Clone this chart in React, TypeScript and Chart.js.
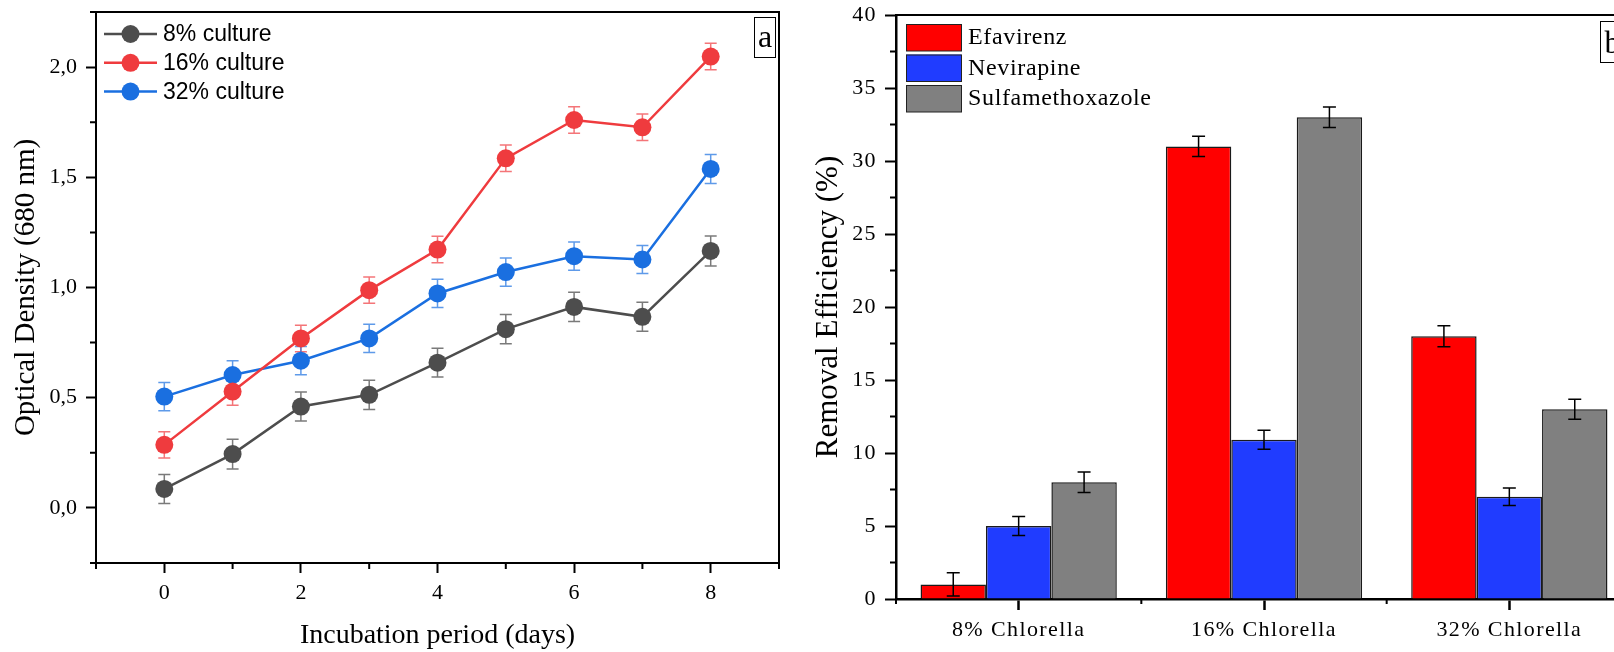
import React, { useEffect, useRef } from 'react';
import { Chart, registerables } from 'chart.js';

Chart.register(...registerables);

// ---------- Panel a : optical density ----------
const days = [0, 1, 2, 3, 4, 5, 6, 7, 8];
const seriesNamesA = ['8% culture', '16% culture', '32% culture'];
const culture8 = [0.086, 0.244, 0.46, 0.513, 0.659, 0.811, 0.912, 0.867, 1.166];
const culture16 = [0.286, 0.528, 0.769, 0.988, 1.172, 1.586, 1.76, 1.727, 2.048];
const culture32 = [0.505, 0.603, 0.668, 0.769, 0.973, 1.07, 1.142, 1.127, 1.538];
const culture8Err = [0.066, 0.068, 0.066, 0.066, 0.065, 0.066, 0.066, 0.066, 0.068];
const culture16Err = [0.06, 0.062, 0.06, 0.06, 0.06, 0.06, 0.06, 0.06, 0.06];
const culture32Err = [0.064, 0.065, 0.064, 0.064, 0.064, 0.064, 0.064, 0.064, 0.066];
const xMinorTicksA = [-1, 1, 3, 5, 7, 9];
const yMinorTicksA = [-0.25, 0.25, 0.75, 1.25, 1.75, 2.25];

// ---------- Panel b : removal efficiency ----------
const groups = ['8% Chlorella', '16% Chlorella', '32% Chlorella'];
const drugNames = ['Efavirenz', 'Nevirapine', 'Sulfamethoxazole'];
const efavirenz = [1, 31, 18];
const nevirapine = [5, 10.9, 7];
const sulfamethoxazole = [8, 33, 13];
const efavirenzErr = [0.8, 0.7, 0.72];
const nevirapineErr = [0.65, 0.65, 0.6];
const sulfamethoxazoleErr = [0.7, 0.7, 0.68];
const yMinorTicksB = [2.5, 7.5, 12.5, 17.5, 22.5, 27.5, 32.5, 37.5];

const colorsA = ['#4D4D4D', '#EF3B3E', '#1A6FE0'];
const errColorsA = ['rgba(77,77,77,0.75)', 'rgba(239,59,62,0.7)', 'rgba(26,111,224,0.7)'];
const colorsB = ['#FF0000', '#203CFF', '#808080'];

const SERIF = '"Liberation Serif", "Times New Roman", serif';
const SANS = '"Liberation Sans", Arial, sans-serif';

const noScalePad = (s: any) => {
  s.paddingTop = 0;
  s.paddingBottom = 0;
  s.paddingLeft = 0;
  s.paddingRight = 0;
};

export default function App() {
  const leftRef = useRef<HTMLCanvasElement>(null);
  const rightRef = useRef<HTMLCanvasElement>(null);

  useEffect(() => {
    const valuesA = [culture8, culture16, culture32];
    const errsA = [culture8Err, culture16Err, culture32Err];
    const valuesB = [efavirenz, nevirapine, sulfamethoxazole];
    const errsB = [efavirenzErr, nevirapineErr, sulfamethoxazoleErr];

    const decorA = {
      id: 'decorA',
      beforeDatasetsDraw(chart: any) {
        const ctx = chart.ctx;
        const ys = chart.scales.y;
        chart.data.datasets.forEach((_ds: any, di: number) => {
          const meta = chart.getDatasetMeta(di);
          ctx.save();
          ctx.strokeStyle = errColorsA[di];
          ctx.lineWidth = 1.5;
          meta.data.forEach((pt: any, i: number) => {
            const v = valuesA[di][i];
            const e = errsA[di][i];
            const t = ys.getPixelForValue(v + e);
            const b = ys.getPixelForValue(v - e);
            ctx.beginPath();
            ctx.moveTo(pt.x, t); ctx.lineTo(pt.x, b);
            ctx.moveTo(pt.x - 6, t); ctx.lineTo(pt.x + 6, t);
            ctx.moveTo(pt.x - 6, b); ctx.lineTo(pt.x + 6, b);
            ctx.stroke();
          });
          ctx.restore();
        });
      },
      afterDraw(chart: any) {
        const ctx = chart.ctx;
        const ca = chart.chartArea;
        const xs = chart.scales.x;
        const ys = chart.scales.y;
        ctx.save();
        ctx.strokeStyle = '#000';
        ctx.lineWidth = 2;
        ctx.beginPath();
        ctx.moveTo(ca.left, ca.top); ctx.lineTo(ca.right, ca.top); ctx.lineTo(ca.right, ca.bottom);
        ctx.stroke();
        ctx.beginPath();
        xMinorTicksA.forEach((v) => {
          const px = xs.getPixelForValue(v);
          ctx.moveTo(px, ca.bottom); ctx.lineTo(px, ca.bottom + 6);
        });
        yMinorTicksA.forEach((v) => {
          const py = ys.getPixelForValue(v);
          ctx.moveTo(ca.left, py); ctx.lineTo(ca.left - 6, py);
        });
        ctx.stroke();
        seriesNamesA.forEach((name, i) => {
          const cy = ca.top + 22 + i * 28.8;
          ctx.strokeStyle = colorsA[i];
          ctx.lineWidth = 2.5;
          ctx.beginPath();
          ctx.moveTo(ca.left + 8, cy); ctx.lineTo(ca.left + 61, cy);
          ctx.stroke();
          ctx.fillStyle = colorsA[i];
          ctx.beginPath();
          ctx.arc(ca.left + 34.5, cy, 9, 0, Math.PI * 2);
          ctx.fill();
          ctx.fillStyle = '#000';
          ctx.font = '23px ' + SANS;
          ctx.textAlign = 'left';
          ctx.textBaseline = 'middle';
          ctx.fillText(name, ca.left + 67, cy + 1);
        });
        ctx.strokeStyle = '#000';
        ctx.lineWidth = 1;
        const bx = Math.round(ca.right - 25) + 0.5;
        const by = Math.round(ca.top + 5) + 0.5;
        ctx.strokeRect(bx, by, 21, 40);
        ctx.fillStyle = '#000';
        ctx.font = '32px ' + SERIF;
        ctx.textAlign = 'center';
        ctx.textBaseline = 'alphabetic';
        ctx.fillText('a', bx + 10.5, by + 29.5);
        ctx.restore();
      },
    };

    const decorB = {
      id: 'decorB',
      afterDatasetsDraw(chart: any) {
        const ctx = chart.ctx;
        const ys = chart.scales.y;
        ctx.save();
        ctx.strokeStyle = '#000';
        ctx.lineWidth = 1.5;
        chart.data.datasets.forEach((_ds: any, di: number) => {
          const meta = chart.getDatasetMeta(di);
          meta.data.forEach((bar: any, i: number) => {
            const v = valuesB[di][i];
            const e = errsB[di][i];
            const t = ys.getPixelForValue(v + e);
            const b = ys.getPixelForValue(v - e);
            ctx.beginPath();
            ctx.moveTo(bar.x, t); ctx.lineTo(bar.x, b);
            ctx.moveTo(bar.x - 6.5, t); ctx.lineTo(bar.x + 6.5, t);
            ctx.moveTo(bar.x - 6.5, b); ctx.lineTo(bar.x + 6.5, b);
            ctx.stroke();
          });
        });
        ctx.restore();
        // tick labels (drawn next, z = 1) are letter-spaced in the original
        ctx.letterSpacing = '1.4px';
      },
      afterDraw(chart: any) {
        const ctx = chart.ctx;
        ctx.letterSpacing = '0px';
        const ca = chart.chartArea;
        const ys = chart.scales.y;
        ctx.save();
        ctx.strokeStyle = '#000';
        ctx.lineWidth = 2;
        ctx.beginPath();
        ctx.moveTo(ca.left, ca.top); ctx.lineTo(ca.right, ca.top); ctx.lineTo(ca.right, ca.bottom);
        ctx.stroke();
        ctx.beginPath();
        for (let k = 0; k <= groups.length; k++) {
          const px = ca.left + (k * (ca.right - ca.left)) / groups.length;
          ctx.moveTo(px, ca.bottom); ctx.lineTo(px, ca.bottom + 5);
        }
        yMinorTicksB.forEach((v) => {
          const py = ys.getPixelForValue(v);
          ctx.moveTo(ca.left, py); ctx.lineTo(ca.left - 6, py);
        });
        ctx.stroke();
        drugNames.forEach((name, i) => {
          const top = ca.top + 9 + i * 30.5;
          ctx.fillStyle = colorsB[i];
          ctx.fillRect(ca.left + 10, top, 55.5, 27);
          ctx.strokeStyle = '#222';
          ctx.lineWidth = 1;
          ctx.strokeRect(ca.left + 10.5, top + 0.5, 55, 26.5);
          ctx.fillStyle = '#000';
          ctx.font = '24px ' + SERIF;
          ctx.letterSpacing = '0.65px';
          ctx.textAlign = 'left';
          ctx.textBaseline = 'middle';
          ctx.fillText(name, ca.left + 72, top + 14);
          ctx.letterSpacing = '0px';
        });
        ctx.strokeStyle = '#000';
        ctx.lineWidth = 1;
        const bx = Math.round(ca.right - 32) + 0.5;
        const by = Math.round(ca.top + 6) + 0.5;
        ctx.strokeRect(bx, by, 24, 41);
        ctx.fillStyle = '#000';
        ctx.font = '32px ' + SERIF;
        ctx.textAlign = 'center';
        ctx.textBaseline = 'alphabetic';
        ctx.fillText('b', bx + 12, by + 31);
        ctx.restore();
      },
    };

    const chartA = new Chart(leftRef.current as HTMLCanvasElement, {
      type: 'line',
      data: {
        datasets: seriesNamesA.map((name, di) => ({
          label: name,
          data: days.map((d, i) => ({ x: d, y: valuesA[di][i] })),
          borderColor: colorsA[di],
          backgroundColor: colorsA[di],
          pointBackgroundColor: colorsA[di],
          pointBorderColor: colorsA[di],
          pointRadius: 9,
          pointHoverRadius: 9,
          pointBorderWidth: 0,
          borderWidth: 2.5,
          tension: 0,
          fill: false,
        })),
      },
      options: {
        animation: false,
        responsive: false,
        maintainAspectRatio: false,
        layout: { padding: { left: 0, top: 12, right: 21, bottom: 0 } },
        plugins: { legend: { display: false }, tooltip: { enabled: false } },
        scales: {
          x: {
            type: 'linear',
            min: -1,
            max: 9,
            ticks: {
              stepSize: 1,
              color: '#000',
              font: { family: SERIF, size: 22 },
              padding: 7,
              callback: (v: any) => (Math.round(v) % 2 === 0 ? String(v) : null),
            },
            grid: { drawOnChartArea: false, drawTicks: true, tickLength: 10, tickWidth: 2, tickColor: '#000', color: '#000' },
            border: { display: true, color: '#000', width: 2 },
            title: { display: true, text: 'Incubation period (days)', color: '#000', font: { family: SERIF, size: 28 }, padding: { top: 0, bottom: 0 } },
            afterFit: (s: any) => { s.height = 89; noScalePad(s); },
          },
          y: {
            type: 'linear',
            min: -0.25,
            max: 2.25,
            ticks: {
              stepSize: 0.25,
              color: '#000',
              font: { family: SERIF, size: 22 },
              padding: 9,
              callback: (v: any) => {
                const n = Number(v);
                return Math.abs(n * 2 - Math.round(n * 2)) < 1e-6 ? n.toFixed(1).replace('.', ',') : null;
              },
            },
            grid: { drawOnChartArea: false, drawTicks: true, tickLength: 10, tickWidth: 2, tickColor: '#000', color: '#000' },
            border: { display: true, color: '#000', width: 2 },
            title: { display: true, text: 'Optical Density (680 nm)', color: '#000', font: { family: SERIF, size: 29 }, padding: { top: 9, bottom: 0 } },
            afterFit: (s: any) => { s.width = 96; noScalePad(s); },
          },
        },
      } as any,
      plugins: [decorA],
    });

    const chartB = new Chart(rightRef.current as HTMLCanvasElement, {
      type: 'bar',
      data: {
        labels: groups,
        datasets: drugNames.map((name, di) => ({
          label: name,
          data: valuesB[di],
          backgroundColor: colorsB[di],
          borderColor: '#1a1a1a',
          borderWidth: 1.5,
          categoryPercentage: 0.8,
          barPercentage: 1.0,
        })),
      },
      options: {
        animation: false,
        responsive: false,
        maintainAspectRatio: false,
        layout: { padding: { left: 0, top: 15, right: 28, bottom: 0 } },
        plugins: { legend: { display: false }, tooltip: { enabled: false } },
        scales: {
          x: {
            type: 'category',
            offset: true,
            ticks: { z: 1, color: '#000', font: { family: SERIF, size: 22 }, padding: 7 },
            grid: { offset: false, drawOnChartArea: false, drawTicks: true, tickLength: 11, tickWidth: 2.5, tickColor: '#000', color: '#000' },
            border: { display: true, color: '#000', width: 2.5 },
            afterFit: (s: any) => { s.height = 53; noScalePad(s); },
          },
          y: {
            type: 'linear',
            min: 0,
            max: 40,
            ticks: { z: 1, stepSize: 5, color: '#000', font: { family: SERIF, size: 22 }, padding: 8 },
            grid: { drawOnChartArea: false, drawTicks: true, tickLength: 11, tickWidth: 2, tickColor: '#000', color: '#000' },
            border: { display: true, color: '#000', width: 2.5 },
            title: { display: true, text: 'Removal Efficiency (%)', color: '#000', font: { family: SERIF, size: 31 }, padding: { top: 10, bottom: 0 } },
            afterFit: (s: any) => { s.width = 96; noScalePad(s); },
          },
        },
      } as any,
      plugins: [decorB],
    });

    return () => {
      chartA.destroy();
      chartB.destroy();
    };
  }, []);

  return (
    <div style={{ position: 'fixed', left: 0, top: 0, width: 1614, height: 652, overflow: 'hidden', background: '#fff' }}>
      <canvas ref={leftRef} width={800} height={652} style={{ position: 'absolute', left: 0, top: 0, width: 800, height: 652 }} />
      <canvas ref={rightRef} width={860} height={652} style={{ position: 'absolute', left: 800, top: 0, width: 860, height: 652 }} />
    </div>
  );
}
